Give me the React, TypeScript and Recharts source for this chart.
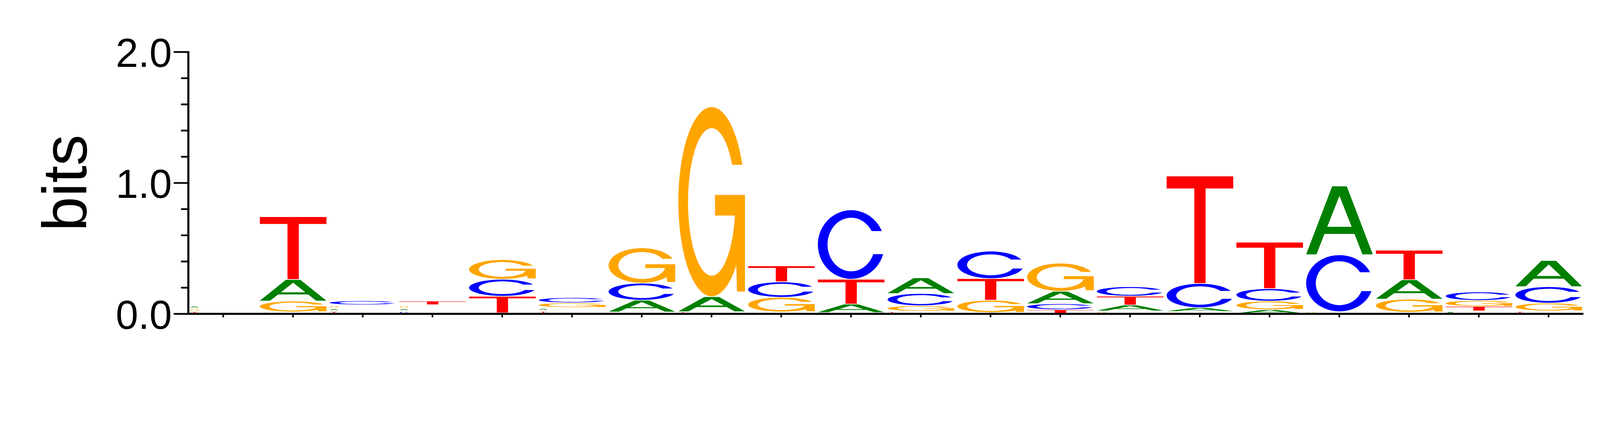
import React from 'react';
import { BarChart, Bar, XAxis, YAxis } from 'recharts';

// information content (bits) of each base at positions 1..20
const positions = ['1', '2', '3', '4', '5', '6', '7', '8', '9', '10', '11', '12', '13', '14', '15', '16', '17', '18', '19', '20'];
const bitsA = [0.022, 0.165, 0.022, 0.022, 0.005, 0.024, 0.09, 0.115, 0.012, 0.065, 0.12, 0.007, 0.095, 0.045, 0.03, 0.03, 0.525, 0.148, 0.02, 0.2];
const bitsC = [0, 0.012, 0.032, 0.021, 0.13, 0.04, 0.13, 0.006, 0.118, 0.53, 0.093, 0.21, 0.045, 0.072, 0.185, 0.095, 0.435, 0.01, 0.065, 0.125];
const bitsG = [0.021, 0.083, 0.023, 0.024, 0.15, 0.036, 0.27, 1.45, 0.112, 0.007, 0.042, 0.095, 0.215, 0.02, 0.015, 0.065, 0.008, 0.1, 0.045, 0.06];
const bitsT = [0.02, 0.48, 0.021, 0.028, 0.127, 0.022, 0.012, 0.008, 0.122, 0.19, 0.018, 0.165, 0.03, 0.068, 0.82, 0.355, 0.006, 0.226, 0.035, 0.02];
const yTicks = [0, 0.2, 0.4, 0.6, 0.8, 1.0, 1.2, 1.4, 1.6, 1.8, 2.0];

const COLORS: Record<string, string> = { A: '#008000', C: '#0000ff', G: '#ffa500', T: '#ff0000' };

// glyph outlines in a unit box, stretched to each letter's slot
const PATHS: Record<string, string> = {
  A: 'M0,1 L0.39,0 L0.61,0 L1,1 L0.845,1 L0.725,0.7 L0.275,0.7 L0.155,1 Z M0.5,0.14 L0.683,0.595 L0.317,0.595 Z',
  C: 'M0.96,0.305 A0.5,0.5 0 1 0 0.98,0.64 L0.831,0.64 A0.355,0.39 0 1 1 0.807,0.305 Z',
  G: 'M0.96,0.305 A0.5,0.5 0 1 0 0.87,0.836 L0.88,0.975 L1,0.975 L1,0.464 L0.55,0.464 L0.55,0.573 L0.849,0.573 A0.355,0.39 0 1 1 0.807,0.305 Z',
  T: 'M0,0 H1 V0.113 H0.585 V1 H0.415 V0.113 H0 Z',
};

// each column is stacked smallest letter at the bottom
const rows = positions.map((pos, i) => {
  const col = [
    { l: 'A', h: bitsA[i] },
    { l: 'C', h: bitsC[i] },
    { l: 'G', h: bitsG[i] },
    { l: 'T', h: bitsT[i] },
  ].sort((a, b) => a.h - b.h);
  const row: any = { pos };
  col.forEach((c, k) => {
    row[`h${k}`] = c.h;
    row[`l${k}`] = c.l;
  });
  return row;
});

const FONT = '"Liberation Sans", Arial, Helvetica, sans-serif';
// the page is photographed at 1.12 device px per css px
const PAGE_SCALE = 1 / 1.12;

const makeGlyph = (k: number) => (props: any) => {
  const { x, y, width, height, payload } = props;
  const letter = payload[`l${k}`];
  const value = payload[`h${k}`];
  if (!value || !height || height <= 0) return <g />;
  const fill = COLORS[letter];
  if (value < 0.025) {
    // very small letters are drawn as tiny glyphs at the left of the column
    const gh = Math.max(2, height * 0.45);
    return (
      <path
        d={PATHS[letter]}
        fill={fill}
        fillRule="evenodd"
        transform={`translate(${x + 1},${y + (height - gh) / 2}) scale(24,${gh})`}
      />
    );
  }
  const gap = height > 6 ? 2 : 0.5;
  return (
    <path
      d={PATHS[letter]}
      fill={fill}
      fillRule="evenodd"
      transform={`translate(${x},${y}) scale(${width},${height - gap})`}
    />
  );
};

const YTick = (props: any) => {
  const { x, y, payload } = props;
  const v = payload.value;
  const major = Math.abs(v - Math.round(v)) < 1e-6;
  const len = major ? 42 : 21;
  return (
    <g>
      <line x1={x - len} x2={x + 3} y1={y} y2={y} stroke="#000" strokeWidth={5} />
      {major && (
        <text x={x - 47} y={y + 43} textAnchor="end" fontSize={116} fontFamily={FONT} fill="#000">
          {v.toFixed(1)}
        </text>
      )}
    </g>
  );
};

const BitsLabel = () => (
  <text
    transform="translate(247,524) rotate(-90)"
    textAnchor="middle"
    fontSize={178}
    fontFamily={FONT}
    fill="#000"
  >
    bits
  </text>
);

export default function App() {
  return (
    <div style={{ width: 4592 * PAGE_SCALE, height: 1092 * PAGE_SCALE, overflow: 'hidden', background: '#fff' }}>
      <style>{'body{margin:0;background:#fff;overflow:hidden}'}</style>
      <div style={{ width: 4592, height: 1092, transform: `scale(${PAGE_SCALE})`, transformOrigin: '0 0' }}>
        <BarChart
          width={4592}
          height={1092}
          data={rows}
          margin={{ top: 149, right: 52, bottom: 133, left: 0 }}
          barSize={191}
        >
          <XAxis
            dataKey="pos"
            type="category"
            axisLine={{ stroke: '#000', strokeWidth: 6 }}
            tickLine={{ stroke: '#000', strokeWidth: 4.5 }}
            tickSize={10}
            tick={() => <g />}
            height={60}
            interval={0}
          />
          <YAxis
            type="number"
            domain={[0, 2]}
            ticks={yTicks}
            interval={0}
            width={540}
            tickSize={0}
            tickMargin={0}
            tickLine={false}
            axisLine={{ stroke: '#000', strokeWidth: 6 }}
            tick={<YTick />}
            label={<BitsLabel />}
          />
          {[0, 1, 2, 3].map((k) => (
            <Bar
              key={k}
              dataKey={`h${k}`}
              stackId="logo"
              shape={makeGlyph(k)}
              isAnimationActive={false}
            />
          ))}
        </BarChart>
      </div>
    </div>
  );
}
